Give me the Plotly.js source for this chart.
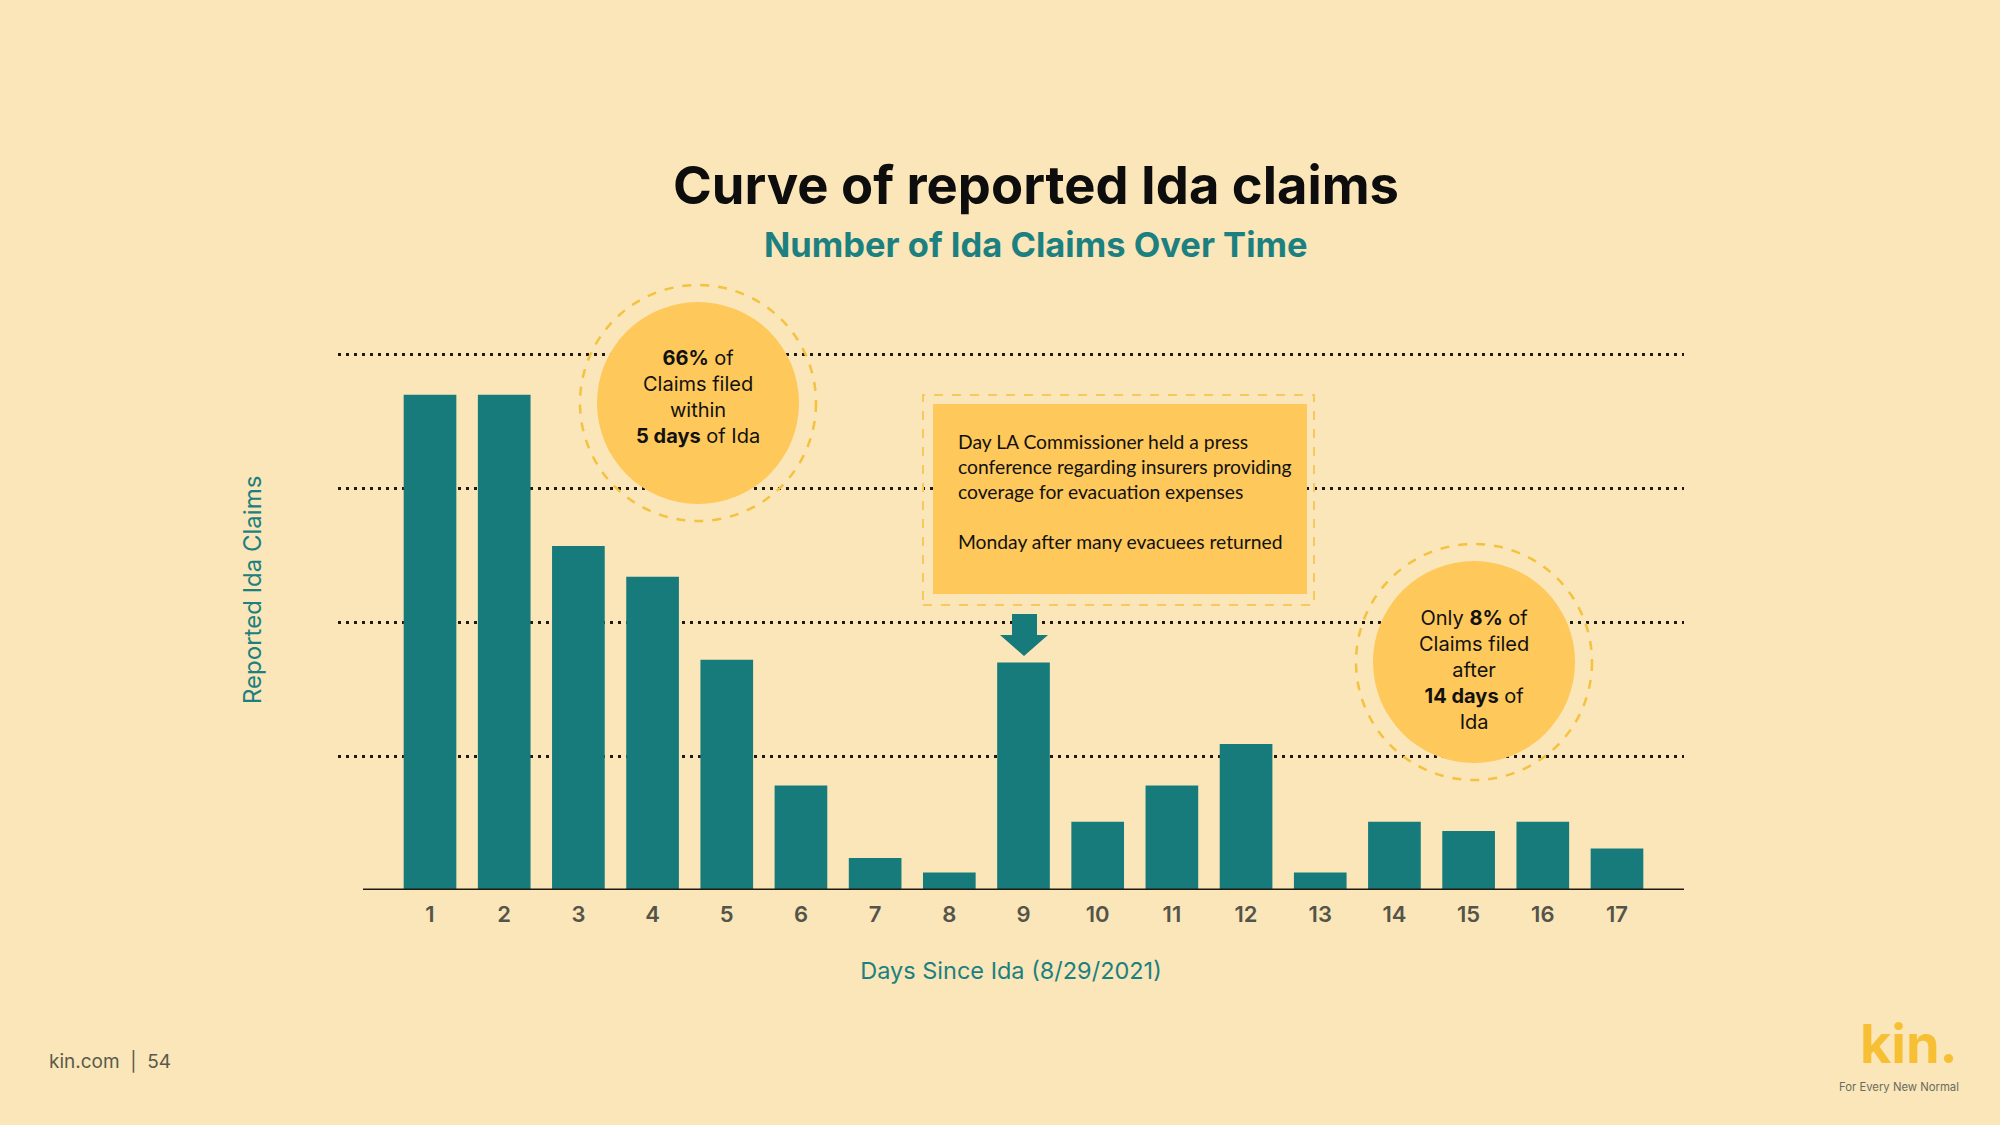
<!DOCTYPE html>
<html>
<head>
<meta charset="utf-8">
<script src="https://cdn.plot.ly/plotly-3.0.1.min.js"></script>
<style>
  html, body { margin: 0; padding: 0; background: #FAE6B8; }
  #chart { width: 2000px; height: 1125px; }
</style>
</head>
<body>
<div id="chart"></div>
<script>
// ---- Data ----
const days = [1, 2, 3, 4, 5, 6, 7, 8, 9, 10, 11, 12, 13, 14, 15, 16, 17];
const dayLabels = ["1","2","3","4","5","6","7","8","9","10","11","12","13","14","15","16","17"];
const claims = [370, 370, 257, 234, 172, 78, 24, 13, 170, 51, 78, 109, 13, 51, 44, 51, 31];
const gridValues = [100, 200, 300, 400];

const titleText = "Curve of reported Ida claims";
const subtitleText = "Number of Ida Claims Over Time";
const xTitle = "Days Since Ida (8/29/2021)";
const yTitle = "Reported Ida Claims";
const note1 = "<b>66%</b> of<br>Claims filed<br>within<br><b>5 days</b> of Ida";
const note2 = "Only <b>8%</b> of<br>Claims filed<br>after<br><b>14 days</b> of<br>Ida";
const boxText = "Day LA Commissioner held a press<br>conference regarding insurers providing<br>coverage for evacuation expenses<br><br>Monday after many evacuees returned";

// ---- Geometry helpers (pixel -> paper) ----
const W = 2000, H = 1125;
const M = {l: 338, r: 316, t: 352, b: 235};
const PW = W - M.l - M.r, PH = H - M.t - M.b;
const px = p => (p - M.l) / PW;
const py = p => (H - M.b - p) / PH;

const BG = "#FAE6B8";
const TEAL = "#177B7C";
const GOLD = "#FEC85A";
const RING = "#F4C23F";

function circle(cx, cy, r, opts) {
  return Object.assign({type: "circle", xref: "paper", yref: "paper",
    x0: px(cx - r), x1: px(cx + r), y0: py(cy + r), y1: py(cy - r), layer: "above"}, opts);
}
function rect(x0, y0, x1, y1, opts) {
  return Object.assign({type: "rect", xref: "paper", yref: "paper",
    x0: px(x0), x1: px(x1), y0: py(y1), y1: py(y0), layer: "above"}, opts);
}
const arrowPts = [[1012,614],[1037,614],[1037,635],[1048,635],[1024,656],[1000,635],[1012,635]];
const arrowPath = "M" + arrowPts.map(p => px(p[0]).toFixed(5) + "," + py(p[1]).toFixed(5)).join(" L") + " Z";

const trace = {
  type: "bar",
  x: days,
  y: claims,
  marker: {color: TEAL, line: {width: 0}},
  hoverinfo: "x+y"
};

const layout = {
  width: W, height: H,
  margin: M,
  paper_bgcolor: BG,
  plot_bgcolor: BG,
  showlegend: false,
  bargap: 0.29,
  font: {family: "Inter, 'Open Sans', sans-serif", color: "#222"},
  title: {
    text: "<b>" + titleText + "</b>",
    x: 0.518, xanchor: "center",
    y: 1 - 186 / H, yanchor: "middle", yref: "container",
    font: {family: "Inter, sans-serif", size: 52.5, color: "#0d0d0d"}
  },
  xaxis: {
    range: [1 - (430 - M.l) / 74.17, 17 + (W - M.r - 1617) / 74.17],
    tickvals: days,
    ticktext: dayLabels,
    showgrid: false, zeroline: false, showline: false,
    ticks: "", ticklabelstandoff: 9,
    tickfont: {family: "Inter, sans-serif", size: 22, color: "#54544A", weight: 600},
    title: {text: xTitle, standoff: 36,
      font: {family: "Inter, sans-serif", size: 23.5, color: "#1C8080"}},
    fixedrange: true
  },
  yaxis: {
    range: [0, 402],
    tickvals: gridValues,
    showticklabels: false,
    showgrid: true, griddash: "3px,5px", gridcolor: "#1e1a10", gridwidth: 3,
    zeroline: false, showline: false, ticks: "",
    fixedrange: true
  },
  shapes: [
    {type: "line", xref: "paper", yref: "y", x0: px(363), x1: 1, y0: 0, y1: 0,
     line: {color: "#1f1a12", width: 3}, layer: "above"},
    circle(698, 403, 101, {fillcolor: GOLD, line: {width: 0}}),
    circle(698, 403, 118, {fillcolor: "rgba(0,0,0,0)", line: {color: RING, width: 2.5, dash: "dash"}}),
    circle(1474, 662, 101, {fillcolor: GOLD, line: {width: 0}}),
    circle(1474, 662, 118, {fillcolor: "rgba(0,0,0,0)", line: {color: RING, width: 2.5, dash: "dash"}}),
    rect(933, 404, 1307, 594, {fillcolor: GOLD, line: {width: 0}}),
    rect(923, 395, 1314, 605, {fillcolor: "rgba(0,0,0,0)", line: {color: "#F6C95E", width: 2, dash: "dash"}}),
    {type: "path", xref: "paper", yref: "paper", path: arrowPath, fillcolor: TEAL, line: {width: 0}, layer: "above"}
  ],
  annotations: [
    {text: "<b>" + subtitleText + "</b>", xref: "paper", yref: "paper",
     x: px(1036), y: py(244), xanchor: "center", yanchor: "middle", showarrow: false,
     font: {family: "Inter, sans-serif", size: 34.5, color: "#1C8080"}},
    {text: yTitle, xref: "paper", yref: "paper", x: px(252), y: py(590),
     xanchor: "center", yanchor: "middle", showarrow: false, textangle: -90,
     font: {family: "Inter, sans-serif", size: 24, color: "#1C8080"}},
    {text: note1, xref: "paper", yref: "paper", x: px(698), y: py(397),
     xanchor: "center", yanchor: "middle", showarrow: false, align: "center",
     font: {family: "Inter, sans-serif", size: 20, color: "#111"}},
    {text: note2, xref: "paper", yref: "paper", x: px(1474), y: py(670),
     xanchor: "center", yanchor: "middle", showarrow: false, align: "center",
     font: {family: "Inter, sans-serif", size: 20, color: "#111"}},
    {text: boxText, xref: "paper", yref: "paper", x: px(956), y: py(491),
     xanchor: "left", yanchor: "middle", showarrow: false, align: "left",
     font: {family: "Lato, 'Open Sans', sans-serif", size: 19.3, color: "#111"}},
    {text: "kin.com  |  54", xref: "paper", yref: "paper", x: px(47), y: py(1061),
     xanchor: "left", yanchor: "middle", showarrow: false,
     font: {family: "Inter, sans-serif", size: 19, color: "#5A5A4C"}},
    {text: "<b>kin.</b>", xref: "paper", yref: "paper", x: px(1960), y: py(1043),
     xanchor: "right", yanchor: "middle", showarrow: false,
     font: {family: "Inter, sans-serif", size: 54, color: "#F7BF33"}},
    {text: "For Every New Normal", xref: "paper", yref: "paper", x: px(1899), y: py(1087),
     xanchor: "center", yanchor: "middle", showarrow: false,
     font: {family: "Inter, sans-serif", size: 11.3, color: "#6b6b60"}}
  ]
};

Plotly.newPlot("chart", [trace], layout, {displayModeBar: false, staticPlot: true});
</script>
</body>
</html>
